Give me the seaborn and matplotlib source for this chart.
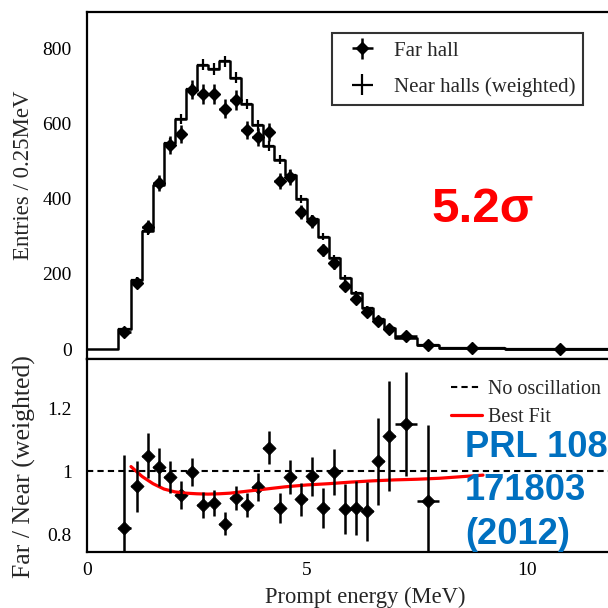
import numpy as np
import pandas as pd
import matplotlib
matplotlib.use("Agg")
import matplotlib.pyplot as plt
import seaborn as sns
from matplotlib.ticker import MultipleLocator, FixedLocator, FuncFormatter

sns.set_theme(style="white")
plt.rcParams['font.family'] = ['Liberation Serif', 'DejaVu Serif']
plt.rcParams['mathtext.fontset'] = 'stix'

# ---------------- data ----------------
bin_edges = [0.0, 0.7, 1.0, 1.25, 1.5, 1.75, 2.0, 2.25, 2.5, 2.75, 3.0, 3.25,
             3.5, 3.75, 4.0, 4.25, 4.5, 4.75, 5.0, 5.25, 5.5, 5.75, 6.0, 6.25,
             6.5, 6.75, 7.0, 7.5, 8.0, 9.5, 12.0]
bin_centers = [0.85, 1.125, 1.375, 1.625, 1.875, 2.125, 2.375, 2.625, 2.875,
               3.125, 3.375, 3.625, 3.875, 4.125, 4.375, 4.625, 4.875, 5.125,
               5.375, 5.625, 5.875, 6.125, 6.375, 6.625, 6.875, 7.25, 7.75,
               8.75, 10.75]
bin_halfwidths = [0.15] + [0.125] * 24 + [0.25, 0.25, 0.75, 1.25]

far_counts = [47, 177, 326, 441, 543, 572, 690, 678, 678, 639, 663, 583, 565,
              577, 447, 457, 364, 340, 264, 229, 167, 133, 100, 75, 53, 36,
              10, 2, 1]
far_errors = [7, 13, 18, 21, 23, 24, 26, 26, 26, 25, 26, 24, 24, 24, 21, 21,
              19, 18, 16, 15, 13, 12, 10, 9, 7, 6, 3, 1.4, 1]
near_counts = [53, 184, 313, 437, 548, 612, 691, 756, 745, 765, 722, 652, 595,
               539, 503, 464, 399, 346, 299, 242, 189, 149, 109, 80, 56, 30,
               11, 2, 1]
near_errors = [4, 8, 10, 12, 13, 14, 15, 15, 15, 15, 15, 14, 14, 13, 12, 12,
               11, 10, 9, 8, 7, 6, 5, 5, 4, 3, 2, 1, 1]

ratio_centers = bin_centers[:27]
ratio_halfwidths = bin_halfwidths[:27]
ratio_vals = [0.822, 0.953, 1.050, 1.013, 0.982, 0.925, 0.998, 0.894, 0.900,
              0.835, 0.915, 0.894, 0.951, 1.074, 0.884, 0.982, 0.912, 0.984,
              0.884, 0.998, 0.881, 0.884, 0.874, 1.032, 1.112, 1.150, 0.907]
ratio_errs = [0.23, 0.08, 0.07, 0.06, 0.05, 0.045, 0.045, 0.042, 0.041, 0.037,
              0.038, 0.039, 0.045, 0.052, 0.047, 0.053, 0.052, 0.062, 0.062,
              0.072, 0.078, 0.085, 0.093, 0.137, 0.173, 0.165, 0.24]

fit_energy = [1.0, 1.25, 1.5, 1.75, 2.0, 2.25, 2.5, 2.75, 3.0, 3.25, 3.5, 4.0,
              4.5, 5.0, 5.5, 6.0, 6.5, 7.0, 7.5, 8.0, 8.5, 9.0]
fit_ratio = [1.015, 0.984, 0.961, 0.944, 0.935, 0.931, 0.929, 0.928, 0.929,
             0.931, 0.935, 0.943, 0.951, 0.957, 0.961, 0.966, 0.970, 0.973,
             0.975, 0.978, 0.983, 0.988]

hist_df = pd.DataFrame({"E": bin_centers, "near": near_counts})
fit_df = pd.DataFrame({"E": fit_energy, "r": fit_ratio})
ratio_df = pd.DataFrame({"E": ratio_centers, "r": ratio_vals})

# ---------------- figure ----------------
fig = plt.figure(figsize=(6.08, 6.08), dpi=100)
fig.patch.set_facecolor("white")
ax1 = fig.add_axes([0.1431, 0.4095, 0.8684, 0.5707])
ax2 = fig.add_axes([0.1431, 0.0921, 0.8684, 0.3174])

LW = 1.6
# top panel
sns.histplot(data=hist_df, x="E", weights="near", bins=bin_edges,
             element="step", fill=False, color="black", linewidth=1.8, ax=ax1)
near_eb = ax1.errorbar(bin_centers, near_counts, yerr=near_errors,
                       xerr=bin_halfwidths, fmt="none", ecolor="black",
                       elinewidth=1.6, capsize=0)
far_eb = ax1.errorbar(bin_centers, far_counts, yerr=far_errors,
                      xerr=bin_halfwidths, fmt="D", color="black", ms=6.3,
                      elinewidth=1.8, capsize=0)

ax1.set_xlim(0, 12)
ax1.set_ylim(-26, 896)
ax1.set_xlabel("")
ax1.set_ylabel("")
ax1.yaxis.set_major_locator(FixedLocator([0, 200, 400, 600, 800]))
ax1.yaxis.set_minor_locator(MultipleLocator(50))
ax1.xaxis.set_major_locator(MultipleLocator(5))
ax1.xaxis.set_minor_locator(MultipleLocator(1))
ax1.tick_params(axis="x", which="both", labelbottom=False)

leg1 = ax1.legend([far_eb, near_eb], ["Far hall", "Near halls (weighted)"],
                  loc="upper left", bbox_to_anchor=(0.464, 0.9395),
                  frameon=True, fancybox=False, fontsize=15,
                  handlelength=2.15, borderpad=0.38, labelspacing=0.8,
                  handletextpad=0.45, borderaxespad=0)
leg1.get_frame().set_edgecolor("black")
leg1.get_frame().set_linewidth(1.5)

# bottom panel
ax2.axhline(1.0, color="black", linestyle=(0, (3, 2)), linewidth=1.5,
            label="No oscillation")
sns.lineplot(data=fit_df, x="E", y="r", color="red", linewidth=2.3,
             ax=ax2, label="Best Fit")
ax2.errorbar(ratio_centers, ratio_vals, yerr=ratio_errs,
             xerr=ratio_halfwidths, fmt="none", ecolor="black",
             elinewidth=1.8, capsize=0)
sns.scatterplot(data=ratio_df, x="E", y="r", marker="D", s=45,
                color="black", edgecolor="black", ax=ax2, legend=False)

ax2.set_xlim(0, 12)
ax2.set_ylim(0.745, 1.355)
ax2.set_xlabel("")
ax2.set_ylabel("")
ax2.yaxis.set_major_locator(FixedLocator([0.8, 1.0, 1.2]))
ax2.yaxis.set_minor_locator(MultipleLocator(0.05))
ax2.yaxis.set_major_formatter(FuncFormatter(lambda v, p: f"{v:g}"))
ax2.xaxis.set_major_locator(MultipleLocator(5))
ax2.xaxis.set_minor_locator(MultipleLocator(1))

leg2 = ax2.legend(loc="upper left", bbox_to_anchor=(0.675, 0.935),
                  frameon=False, fontsize=14.4, handlelength=1.55,
                  handletextpad=0.3, labelspacing=0.48, borderaxespad=0)

for ax in (ax1, ax2):
    for side in ("left", "bottom", "top", "right"):
        ax.spines[side].set_visible(True)
        ax.spines[side].set_color("black")
        ax.spines[side].set_linewidth(LW)
    ax.set_facecolor("white")
    ax.grid(False)
    ax.tick_params(axis="both", which="both", direction="in", colors="black",
                   width=1.4, labelsize=14, top=False, right=False)

ax1.tick_params(axis="y", which="major", length=9, pad=11)
ax1.tick_params(axis="y", which="minor", length=4.8)
ax1.tick_params(axis="x", which="major", length=5)
ax1.tick_params(axis="x", which="minor", length=2.5)
ax2.tick_params(axis="y", which="major", length=7, pad=11)
ax2.tick_params(axis="y", which="minor", length=4)
ax2.tick_params(axis="x", which="major", length=6, pad=7)
ax2.tick_params(axis="x", which="minor", length=3)

# axis titles
fig.text(24 / 608, 1 - 175 / 608, "Entries / 0.25MeV", rotation=90,
         ha="center", va="center", fontsize=16.5)
fig.text(24 / 608, 1 - 467 / 608, "Far / Near (weighted)", rotation=90,
         ha="center", va="center", fontsize=18.5)
fig.text(365 / 608, 1 - 597 / 608, "Prompt energy (MeV)", ha="center",
         va="center", fontsize=16.3)

# annotations
fig.text(483 / 608, 1 - 222 / 608, "5.2σ", color="#ff0000",
         fontsize=35.5, fontweight="bold", family="Liberation Sans",
         ha="center", va="baseline")
blue = "#0070c0"
for txt, base in (("PRL 108", 457), ("171803", 500), ("(2012)", 544)):
    fig.text(465 / 608, 1 - base / 608, txt, color=blue, fontsize=26.2,
             fontweight="bold", family="Liberation Sans", ha="left",
             va="baseline")

fig.savefig("out.png", dpi=100)
